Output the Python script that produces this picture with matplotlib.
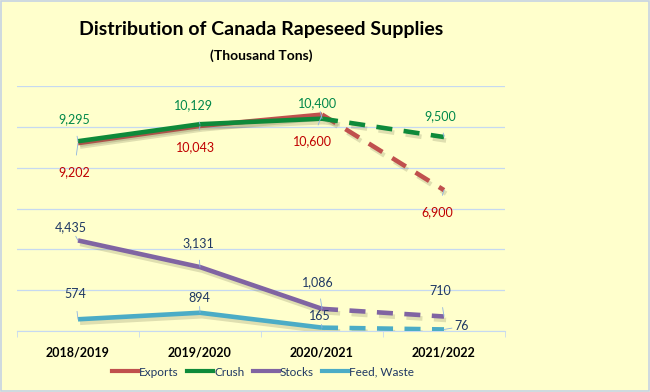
import matplotlib.pyplot as plt
import matplotlib.patheffects as pe
from matplotlib.patches import Rectangle

plt.rcParams['font.family'] = ['Lato', 'DejaVu Sans']

# data
years = ['2018/2019', '2019/2020', '2020/2021', '2021/2022']
exports = [9202, 10043, 10600, 6900]
crush = [9295, 10129, 10400, 9500]
stocks = [4435, 3131, 1086, 710]
feed = [574, 894, 165, 76]

series = [('Exports', exports, '#C0504D', '#C00000'),
          ('Crush', crush, '#0E8A3A', '#00884A'),
          ('Stocks', stocks, '#8064A2', '#1F3864'),
          ('Feed, Waste', feed, '#4BACC6', '#1F3864')]

# label offsets in pixels (dx, dy) per series/point
offsets = {
    'Exports': [(-4, -29), (-4, -21), (-10, -27), (-7, -22)],
    'Crush': [(-4, 22), (-7, 19), (-4, 16), (-4, 21)],
    'Stocks': [(-7, 13), (-2, 24), (-4, 27), (-4, 26)],
    'Feed, Waste': [(-3, 25), (-1, 15), (-2, 12), (18, 3)],
}

bg = '#FFFFCC'
fig = plt.figure(figsize=(6.5, 3.92), dpi=100, facecolor=bg)
ax = fig.add_axes([17 / 650, 1 - 331 / 392, 488 / 650, 245 / 392])
ax.set_facecolor(bg)

x = list(range(len(years)))
shadow = [pe.SimpleLineShadow(offset=(1.5, -2.5), shadow_color='#606040', alpha=0.2),
          pe.Normal()]

for name, vals, col, lcol in series:
    ax.plot(x[:3], vals[:3], color=col, lw=3.3, solid_capstyle='butt',
            path_effects=shadow, zorder=3)
    ax.plot(x[2:], vals[2:], color=col, lw=3.3, ls=(0, (3.5, 2.5)),
            path_effects=shadow, zorder=3)
    ax.plot([], [], color=col, lw=3, label=name)
    for i, v in enumerate(vals):
        dx, dy = offsets[name][i]
        ax.annotate(f'{v:,}', (i, v), xytext=(dx, dy), textcoords='offset pixels',
                    ha='center', va='center', fontsize=9, color=lcol,
                    arrowprops=dict(arrowstyle='-', color='#8DB3E2', lw=0.6,
                                    shrinkA=6, shrinkB=0), zorder=4)

ax.set_xlim(-0.5, 3.5)
ax.set_ylim(0, 12000)
ax.set_yticks(range(0, 12001, 2000))
ax.yaxis.grid(True, color='#C6D9F1', lw=0.9)
ax.set_axisbelow(True)
ax.tick_params(axis='y', left=False, labelleft=False)
ax.set_xticks(x)
ax.set_xticklabels(years, fontsize=9, fontweight='bold')
ax.set_xticks([-0.5, 0.5, 1.5, 2.5, 3.5], minor=True)
ax.tick_params(axis='x', which='major', length=0, pad=11)
ax.tick_params(axis='x', which='minor', length=4, color='#C6D9F1')
for s in ['top', 'left', 'right']:
    ax.spines[s].set_visible(False)
ax.spines['bottom'].set_color('#C6D9F1')

fig.text(261 / 650, 1 - 30 / 392, 'Distribution of Canada Rapeseed Supplies',
         ha='center', va='center', fontsize=14, fontweight='bold')
fig.text(261 / 650, 1 - 56 / 392, '(Thousand Tons)',
         ha='center', va='center', fontsize=10, fontweight='bold')

leg = fig.legend(loc='center', bbox_to_anchor=(263 / 650, 1 - 372 / 392), ncol=4,
                 frameon=False, fontsize=8.5, handlelength=2.2, handletextpad=0.1,
                 columnspacing=0.7)
for t in leg.get_texts():
    t.set_color('#1F3864')

fig.patches.append(Rectangle((0.002, 0.003), 0.996, 0.994, transform=fig.transFigure,
                             fill=False, edgecolor='#C6D3E4', lw=1.2))

fig.savefig('out.png', dpi=100, facecolor=bg)
